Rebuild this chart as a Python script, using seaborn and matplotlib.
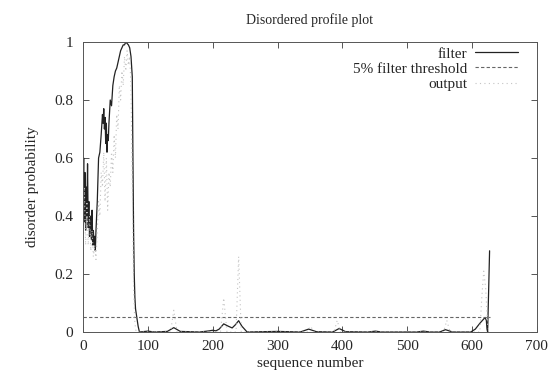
import numpy as np
import pandas as pd
import matplotlib
matplotlib.use("Agg")
import matplotlib.pyplot as plt
import seaborn as sns

# filter curve (sequence position, probability)
filter_pos = [0, 1, 2, 3, 4, 5, 6, 7, 8, 9, 10, 11, 12, 13, 14, 15, 16, 17, 18, 19,
              20, 22, 24, 26, 28, 30, 31, 32, 33, 34, 35, 36, 37, 38, 39, 40, 42, 44,
              46, 48, 50, 52, 54, 56, 58, 60, 62, 64, 66, 68, 70, 72, 74, 76, 77, 78,
              79, 80, 81, 83, 85, 87, 100, 110, 130, 140, 150, 180, 195, 200, 205,
              210, 217, 224, 230, 235, 240, 245, 253, 300, 335, 348, 360, 385, 395,
              405, 440, 451, 460, 515, 525, 535, 550, 559, 570, 598, 605, 612, 618,
              620, 622, 623, 624, 627]
filter_val = [0.45, 0.6, 0.38, 0.55, 0.35, 0.5, 0.4, 0.58, 0.36, 0.45, 0.33, 0.4, 0.38,
              0.32, 0.42, 0.3, 0.35, 0.3, 0.33, 0.28, 0.35, 0.45, 0.6, 0.62, 0.68, 0.75,
              0.72, 0.77, 0.7, 0.74, 0.65, 0.72, 0.62, 0.68, 0.66, 0.72, 0.8, 0.78, 0.85,
              0.88, 0.9, 0.91, 0.93, 0.95, 0.97, 0.98, 0.99, 0.99, 1.0, 0.995, 0.99,
              0.98, 0.95, 0.88, 0.6, 0.35, 0.2, 0.12, 0.08, 0.05, 0.02, 0.0, 0.003,
              0.0, 0.002, 0.015, 0.002, 0.0, 0.004, 0.006, 0.004, 0.01, 0.028, 0.02,
              0.014, 0.025, 0.039, 0.02, 0.0, 0.002, 0.0, 0.01, 0.001, 0.0, 0.012,
              0.001, 0.0, 0.003, 0.0, 0.0, 0.003, 0.0, 0.0, 0.008, 0.0, 0.0, 0.01,
              0.03, 0.045, 0.05, 0.04, 0.01, 0.0, 0.28]

# raw output curve
output_pos = [0, 2, 4, 6, 8, 10, 12, 14, 16, 18, 20, 22, 24, 26, 28, 30, 32, 34, 36,
              38, 40, 42, 44, 46, 48, 50, 52, 54, 56, 58, 60, 62, 64, 66, 68, 70, 72,
              74, 76, 78, 80, 82, 135, 140, 145, 212, 217, 222, 236, 240, 244, 346,
              351, 356, 387, 392, 397, 556, 561, 566, 612, 615, 618, 621, 624, 627]
output_val = [0.35, 0.5, 0.3, 0.45, 0.3, 0.4, 0.28, 0.35, 0.26, 0.3, 0.25, 0.35, 0.45,
              0.4, 0.55, 0.5, 0.62, 0.45, 0.6, 0.42, 0.55, 0.5, 0.62, 0.55, 0.68, 0.6,
              0.75, 0.7, 0.85, 0.8, 0.9, 0.85, 0.95, 0.9, 0.97, 0.92, 0.95, 0.85, 0.5,
              0.15, 0.03, 0.0, 0.0, 0.075, 0.0, 0.0, 0.117, 0.0, 0.0, 0.26, 0.0, 0.0,
              0.02, 0.0, 0.0, 0.04, 0.0, 0.0, 0.04, 0.0, 0.0, 0.12, 0.21, 0.15, 0.02,
              0.0]

threshold_pos = [0, 627]
threshold_val = [0.05, 0.05]

sns.set_style("ticks")
plt.rcParams['font.family'] = ['Liberation Serif', 'DejaVu Serif']
plt.rcParams['font.size'] = 10

fig = plt.figure(figsize=(5.49, 3.74), dpi=100)
ax = fig.add_axes([0.1512, 0.1123, 0.8268, 0.7754])

sns.lineplot(x=filter_pos, y=filter_val, ax=ax, color="#222222", lw=0.9,
             label="filter")
sns.lineplot(x=threshold_pos, y=threshold_val, ax=ax, color="#666666", lw=0.8,
             linestyle=(0, (3, 2)), label="5% filter threshold")
sns.lineplot(x=output_pos, y=output_val, ax=ax, color="#c4c4c4", lw=0.8,
             linestyle=(0, (1, 3)), label="output")

ax.set_xlim(0, 700)
ax.set_ylim(0, 1)
ax.set_xticks(range(0, 701, 100))
ax.set_yticks([0, 0.2, 0.4, 0.6, 0.8, 1])
ax.set_yticklabels(["0", "0.2", "0.4", "0.6", "0.8", "1"])
ax.tick_params(direction="in", length=4, width=0.7, color="#555555",
               top=True, right=True, labelsize=11, pad=7)
ax.tick_params(axis="x", pad=6)
for s in ax.spines.values():
    s.set_linewidth(0.7)
    s.set_color("#555555")
    s.set_visible(True)

ax.set_title("Disordered profile plot", fontsize=10, pad=13)
ax.set_xlabel("sequence number", fontsize=11, labelpad=3)
ax.set_ylabel("disorder probability", fontsize=11, labelpad=11)

ax.legend(loc="upper right", frameon=False, markerfirst=False, fontsize=11,
          handlelength=2.8, handletextpad=0.5, labelspacing=0.1,
          borderaxespad=0.3, bbox_to_anchor=(0.982, 1.02))

fig.savefig("out.png", dpi=100)
